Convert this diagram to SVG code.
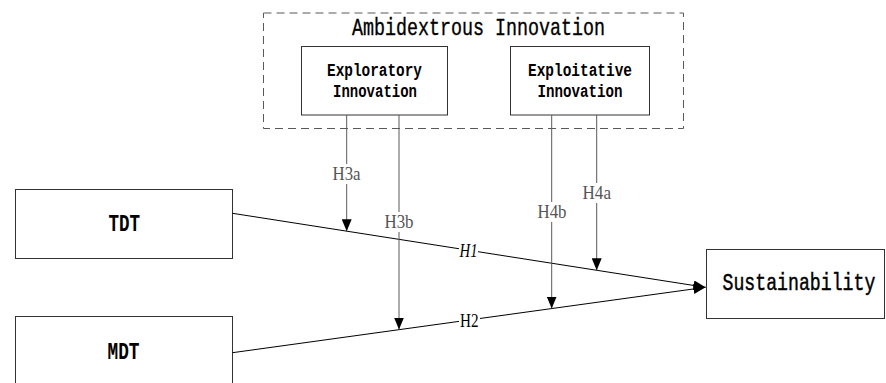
<svg xmlns="http://www.w3.org/2000/svg" width="886" height="383" viewBox="0 0 886 383">
  <defs>
    <marker id="arrow" viewBox="0 0 12 10" refX="12" refY="5" markerWidth="12" markerHeight="10" markerUnits="userSpaceOnUse" orient="auto">
      <path d="M0,0 L12,5 L0,10 Z" fill="#000"/>
    </marker>
  </defs>
  <style>
    .box { fill: #fff; stroke: #333; stroke-width: 1; }
    .group { fill: none; stroke: #595959; stroke-width: 1; stroke-dasharray: 8 5; }
    .mono { font-family: "Liberation Mono", "DejaVu Sans Mono", monospace; fill: #000; }
    .reg { stroke: #000; stroke-width: 0.35; }
    .bold { font-weight: bold; }
    .link { stroke: #000; stroke-width: 1; fill: none; }
    .mod { stroke: #595959; stroke-width: 1; fill: none; }
    .hyp { font-family: "Liberation Serif", "DejaVu Serif", serif; font-size: 18px; fill: #555; }
    .main { font-family: "Liberation Serif", "DejaVu Serif", serif; font-size: 18px; fill: #000; }
    .bg { fill: #fff; }
  </style>

  <!-- moderator group -->
  <g id="ambidextrous">
    <rect class="group" x="263.5" y="13" width="420" height="115.5"/>
    <text class="mono reg" x="352" y="35" font-size="24" textLength="253" lengthAdjust="spacingAndGlyphs">Ambidextrous Innovation</text>
  </g>

  <g id="exploratory">
    <rect class="box" x="301.5" y="46.5" width="146" height="68.5"/>
    <text class="mono bold" x="327" y="76" font-size="19" textLength="95" lengthAdjust="spacingAndGlyphs">Exploratory</text>
    <text class="mono bold" x="333" y="97" font-size="19" textLength="84" lengthAdjust="spacingAndGlyphs">Innovation</text>
  </g>

  <g id="exploitative">
    <rect class="box" x="510.5" y="46.5" width="139" height="68.5"/>
    <text class="mono bold" x="528" y="76" font-size="19" textLength="104" lengthAdjust="spacingAndGlyphs">Exploitative</text>
    <text class="mono bold" x="537.5" y="97" font-size="19" textLength="85" lengthAdjust="spacingAndGlyphs">Innovation</text>
  </g>

  <g id="tdt">
    <rect class="box" x="15.5" y="189.5" width="217" height="69"/>
    <text class="mono bold" x="108.5" y="231" font-size="23" textLength="31.5" lengthAdjust="spacingAndGlyphs">TDT</text>
  </g>

  <g id="mdt">
    <rect class="box" x="15.5" y="316.5" width="217" height="80"/>
    <text class="mono bold" x="107.5" y="358.5" font-size="23" textLength="32" lengthAdjust="spacingAndGlyphs">MDT</text>
  </g>

  <g id="sustainability">
    <rect class="box" x="706.5" y="249.5" width="178" height="69"/>
    <!-- narrow monospace look: natural width kept, glyphs stretched vertically -->
    <text class="mono reg" x="0" y="0" font-size="18.2" transform="translate(722.5 290) scale(1 1.3)">Sustainability</text>
  </g>

  <!-- connectors -->
  <g id="connectors">
    <line class="link" x1="232.5" y1="213.3" x2="705.5" y2="287.3" marker-end="url(#arrow)"/>
    <line class="link" x1="232.5" y1="352.7" x2="705.5" y2="287.3" marker-end="url(#arrow)"/>

    <line class="mod" x1="346.7" y1="115" x2="346.7" y2="231.2" marker-end="url(#arrow)"/>
    <line class="mod" x1="399" y1="115" x2="399" y2="329.5" marker-end="url(#arrow)"/>
    <line class="mod" x1="551.7" y1="115" x2="551.7" y2="308.5" marker-end="url(#arrow)"/>
    <line class="mod" x1="596.7" y1="115" x2="596.7" y2="270.3" marker-end="url(#arrow)"/>

    <!-- hypothesis labels -->
    <rect class="bg" x="331" y="164" width="31" height="20"/>
    <text class="hyp" x="332.5" y="180" textLength="28" lengthAdjust="spacingAndGlyphs">H3a</text>
    <rect class="bg" x="383" y="212" width="32" height="20"/>
    <text class="hyp" x="384.5" y="228" textLength="29" lengthAdjust="spacingAndGlyphs">H3b</text>
    <rect class="bg" x="536" y="202" width="32" height="20"/>
    <text class="hyp" x="537.5" y="218" textLength="29" lengthAdjust="spacingAndGlyphs">H4b</text>
    <rect class="bg" x="581" y="183" width="32" height="20"/>
    <text class="hyp" x="582.5" y="199" textLength="28.5" lengthAdjust="spacingAndGlyphs">H4a</text>

    <rect class="bg" x="459" y="241" width="19" height="18"/>
    <text class="main" x="459.5" y="257" font-style="italic" textLength="18" lengthAdjust="spacingAndGlyphs">H1</text>
    <rect class="bg" x="459" y="311" width="21" height="18"/>
    <text class="main" x="460" y="326.5" textLength="18.5" lengthAdjust="spacingAndGlyphs">H2</text>
  </g>
</svg>
